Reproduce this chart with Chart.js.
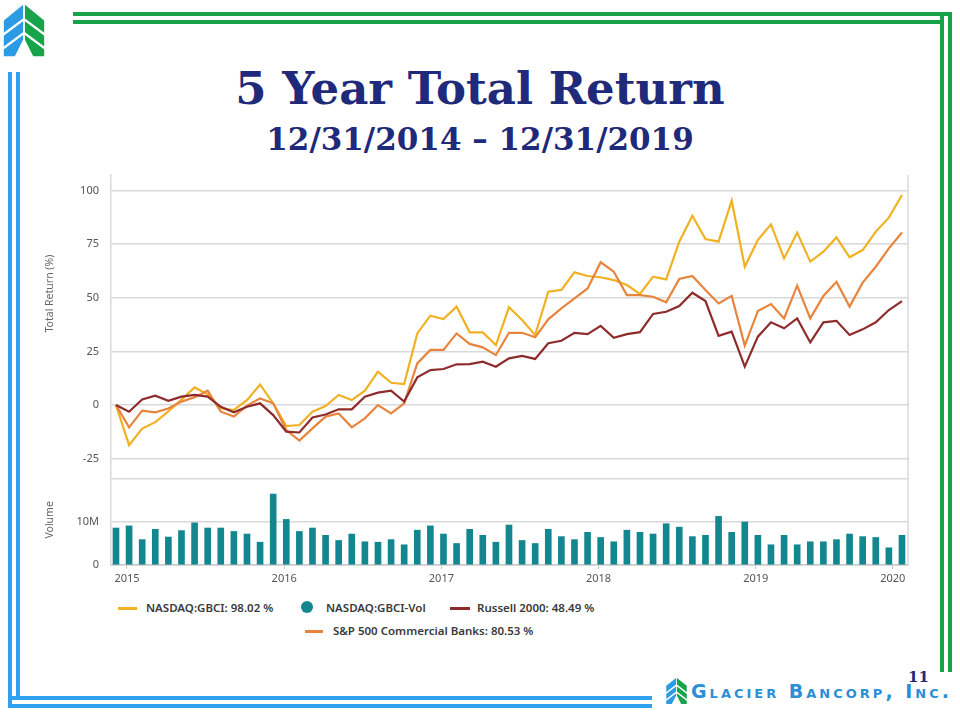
<!DOCTYPE html>
<html>
<head>
<meta charset="utf-8">
<script src="https://cdn.jsdelivr.net/npm/chart.js@4.4.1/dist/chart.umd.min.js"></script>
<style>
  html, body { margin: 0; padding: 0; background: #fff; }
  #slide { position: relative; width: 960px; height: 720px; overflow: hidden; background: #fff; }
  .ln { position: absolute; }
  .green { background: #17a24a; }
  .blue { background: #2fa1f0; }
  .title { position: absolute; left: 0; width: 960px; text-align: center; font-family: "DejaVu Serif", serif; font-weight: bold; color: #1f2a7a; white-space: nowrap; }
  #chartBox { position: absolute; left: 0; top: 170px; width: 960px; height: 415px; }
  .lg { position: absolute; font-family: "Noto Sans", sans-serif; font-weight: 600; font-size: 11.5px; line-height: 16px; color: #3a3a3a; white-space: nowrap; }
  .lgLine { position: absolute; height: 2.5px; }
  .lgDot { position: absolute; width: 12px; height: 12px; border-radius: 50%; }
  #company { position: absolute; left: 691px; top: 680px; font-family: "DejaVu Sans", sans-serif; font-weight: bold; font-size: 19px; font-variant: small-caps; letter-spacing: 3px; color: #2b8fd6; white-space: nowrap; line-height: 22px; }
  #pageNo { position: absolute; left: 908px; top: 668px; font-family: "DejaVu Serif", serif; font-weight: bold; font-size: 15px; color: #1f2a7a; }
</style>
</head>
<body>
<div id="slide">
  <!-- green frame top / right -->
  <div class="ln green" style="left:73px; top:12px; width:879px; height:3.5px"></div>
  <div class="ln green" style="left:73px; top:20px; width:871px; height:3.5px"></div>
  <div class="ln green" style="left:940px; top:12px; width:4px; height:660px"></div>
  <div class="ln green" style="left:948px; top:12px; width:4px; height:660px"></div>
  <!-- blue frame left / bottom -->
  <div class="ln blue" style="left:8px; top:72px; width:4px; height:636px"></div>
  <div class="ln blue" style="left:16px; top:72px; width:4px; height:628px"></div>
  <div class="ln blue" style="left:8px; top:696px; width:644px; height:4px"></div>
  <div class="ln blue" style="left:8px; top:704px; width:644px; height:4px"></div>

  <!-- logo top left -->
  <svg style="position:absolute; left:2px; top:2px" width="44" height="57" viewBox="0 0 48 60">
    <polygon fill="#2b9be6" points="2,19 23,2 23,40 14,58 2,58"/>
    <polygon fill="#17a34a" points="46,19 25,2 25,40 34,58 46,58"/>
    <g stroke="#fff" stroke-width="2.5">
      <line x1="0" y1="35.5" x2="24" y2="17.5"/>
      <line x1="0" y1="50.5" x2="24" y2="32.5"/>
      <line x1="48" y1="35.5" x2="24" y2="17.5"/>
      <line x1="48" y1="50.5" x2="24" y2="32.5"/>
    </g>
  </svg>

  <div class="title" style="top:66px; font-size:45px; line-height:45px">5 Year Total Return</div>
  <div class="title" style="top:124px; font-size:31px; line-height:31px">12/31/2014 – 12/31/2019</div>

  <div id="chartBox"><canvas id="returnChart"></canvas></div>

  <!-- legend -->
  <div class="lgLine" id="lgGbci" style="left:118px; top:607px; width:19px"></div>
  <div class="lg" style="left:146px; top:600px">NASDAQ:GBCI: 98.02 %</div>
  <div class="lgDot" id="lgVol" style="left:301px; top:601px"></div>
  <div class="lg" style="left:326px; top:600px">NASDAQ:GBCI-Vol</div>
  <div class="lgLine" id="lgRussell" style="left:450px; top:607px; width:20px"></div>
  <div class="lg" style="left:477px; top:600px">Russell 2000: 48.49 %</div>
  <div class="lgLine" id="lgBanks" style="left:305px; top:630px; width:18px"></div>
  <div class="lg" style="left:333px; top:623px">S&amp;P 500 Commercial Banks: 80.53 %</div>

  <!-- footer -->
  <div id="pageNo">11</div>
  <svg style="position:absolute; left:665px; top:677px" width="23" height="28" viewBox="0 0 48 60">
    <polygon fill="#2b9be6" points="2,19 23,2 23,40 14,58 2,58"/>
    <polygon fill="#17a34a" points="46,19 25,2 25,40 34,58 46,58"/>
    <g stroke="#fff" stroke-width="3">
      <line x1="0" y1="35.5" x2="24" y2="17.5"/>
      <line x1="0" y1="50.5" x2="24" y2="32.5"/>
      <line x1="48" y1="35.5" x2="24" y2="17.5"/>
      <line x1="48" y1="50.5" x2="24" y2="32.5"/>
    </g>
  </svg>
  <div id="company">Glacier Bancorp, Inc.</div>
</div>

<script>
// monthly total return (%) since 12/2014, one value per month
const gbci = [0, -18.7, -11, -8, -3, 2.5, 8.2, 5, -1.5, -2.3,
  2.3, 9.6, 0.8, -9.8, -9.3, -3.1, -0.5, 4.7, 2.3, 6.7,
  15.6, 10.4, 9.8, 33.4, 41.7, 40.1, 45.9, 33.9, 33.9, 28.0,
  45.6, 39.7, 32.7, 52.9, 53.7, 61.9, 60.2, 59.6, 58.3, 56.0,
  51.8, 59.9, 58.6, 76.2, 88.3, 77.4, 76.2, 95.3, 64.5, 77.0,
  84.3, 68.4, 80.4, 66.9, 71.5, 78.2, 68.9, 72.3, 80.9, 87.4, 98.0];

const russell = [0, -3.1, 2.6, 4.4, 2.0, 3.9, 4.7, 3.9, -0.8, -3.4,
  -0.8, 0.8, -4.7, -12.4, -12.8, -5.8, -4.4, -2.0, -2.0, 3.9,
  5.8, 6.7, 1.6, 12.9, 16.3, 16.8, 19.0, 19.1, 20.2, 17.9,
  21.8, 22.9, 21.5, 28.8, 30.0, 33.7, 33.1, 36.9, 31.4, 33.1,
  34.0, 42.5, 43.5, 46.2, 52.4, 48.5, 32.3, 34.2, 17.9, 31.9,
  38.6, 35.8, 40.4, 29.2, 38.6, 39.3, 32.7, 35.3, 38.6, 44.3, 48.5];

const banks = [0, -10.4, -2.6, -3.4, -1.6, 1.6, 3.6, 6.7, -3.1, -5.4,
  -0.3, 3.1, 0.8, -11.7, -16.6, -10.9, -5.4, -3.9, -10.4, -6.2,
  0, -3.9, 0.8, 19.4, 25.7, 25.7, 33.4, 28.5, 26.9, 23.3,
  33.7, 33.7, 31.6, 40.0, 45.1, 49.8, 54.4, 66.6, 62.2, 51.3,
  51.3, 50.5, 47.9, 58.8, 60.2, 53.7, 47.4, 50.9, 27.7, 43.9,
  47.1, 40.4, 55.7, 40.4, 50.9, 57.5, 45.9, 57.1, 64.5, 73.1, 80.5];

// monthly volume, millions of shares
const volume = [8.6, 9.1, 5.9, 8.3, 6.5, 8.0, 9.8, 8.6, 8.6, 7.8,
  7.2, 5.3, 16.5, 10.6, 7.8, 8.6, 6.9, 5.7, 7.2, 5.4,
  5.3, 5.9, 4.7, 8.1, 9.1, 7.2, 5.0, 8.3, 6.9, 5.3,
  9.3, 5.7, 5.0, 8.3, 6.6, 5.9, 7.6, 6.4, 5.4, 8.1,
  7.6, 7.2, 9.6, 8.8, 6.6, 6.9, 11.3, 7.6, 10.0, 6.9,
  4.7, 6.9, 4.7, 5.4, 5.4, 5.9, 7.2, 6.6, 6.4, 4.0, 6.9];

const yearLabels = ['2015', '2016', '2017', '2018', '2019', '2020'];
const yearTickPos = [0.84, 12.84, 24.84, 36.84, 48.84, 59.3]; // in months from first point
const returnTicks = [-25, 0, 25, 50, 75, 100];
const volumeTicks = [0, 10];

const colors = {
  gbci: '#f0b224',
  banks: '#e8843c',
  russell: '#8e2b2b',
  vol: '#13878f'
};

document.getElementById('lgGbci').style.background = colors.gbci;
document.getElementById('lgBanks').style.background = colors.banks;
document.getElementById('lgRussell').style.background = colors.russell;
document.getElementById('lgVol').style.background = colors.vol;

const toPoints = arr => arr.map((v, i) => ({ x: i, y: v }));

Chart.defaults.font.family = '"Noto Sans", sans-serif';
Chart.defaults.font.size = 11;
Chart.defaults.color = '#666';

const gridColor = '#d9d9d9';

// fixed-size axis boxes, no extra label padding
const fixWidth = scale => {
  scale.width = 111;
  scale.paddingTop = 0;
  scale.paddingBottom = 0;
};

// axis titles + right border of the plot
const panelDecor = {
  id: 'panelDecor',
  afterDraw(chart) {
    const { ctx, chartArea, scales } = chart;
    ctx.save();
    ctx.strokeStyle = gridColor;
    ctx.lineWidth = 1.5;
    ctx.beginPath();
    ctx.moveTo(chartArea.right, chartArea.top);
    ctx.lineTo(chartArea.right, chartArea.bottom);
    ctx.stroke();

    ctx.fillStyle = '#666';
    ctx.font = '10.5px "Noto Sans", sans-serif';
    ctx.textAlign = 'center';
    ctx.textBaseline = 'middle';
    const titles = [
      ['Total Return (%)', scales.y.getPixelForValue(52)],
      ['Volume', scales.yVol.getPixelForValue(10.5)]
    ];
    titles.forEach(([text, cy]) => {
      ctx.save();
      ctx.translate(50, cy);
      ctx.rotate(-Math.PI / 2);
      ctx.fillText(text, 0, 0);
      ctx.restore();
    });
    ctx.restore();
  }
};

new Chart(document.getElementById('returnChart'), {
  type: 'line',
  data: {
    datasets: [
      {
        type: 'bar',
        label: 'NASDAQ:GBCI-Vol',
        data: toPoints(volume),
        yAxisID: 'yVol',
        backgroundColor: colors.vol,
        barThickness: 6
      },
      {
        label: 'Russell 2000: 48.49 %',
        data: toPoints(russell),
        yAxisID: 'y',
        borderColor: colors.russell,
        borderWidth: 2.2,
        pointRadius: 0,
        tension: 0
      },
      {
        label: 'S&P 500 Commercial Banks: 80.53 %',
        data: toPoints(banks),
        yAxisID: 'y',
        borderColor: colors.banks,
        borderWidth: 2.2,
        pointRadius: 0,
        tension: 0
      },
      {
        label: 'NASDAQ:GBCI: 98.02 %',
        data: toPoints(gbci),
        yAxisID: 'y',
        borderColor: colors.gbci,
        borderWidth: 2.2,
        pointRadius: 0,
        tension: 0
      }
    ]
  },
  options: {
    responsive: true,
    maintainAspectRatio: false,
    animation: false,
    layout: { padding: { left: 0, top: 5, right: 52, bottom: 0 } },
    plugins: {
      legend: { display: false },
      tooltip: { enabled: false }
    },
    scales: {
      x: {
        type: 'linear',
        offset: false,
        min: -0.38,
        max: 60.46,
        afterBuildTicks: scale => { scale.ticks = yearTickPos.map(v => ({ value: v })); },
        afterFit: scale => { scale.height = 20; scale.paddingLeft = 0; scale.paddingRight = 0; },
        ticks: {
          padding: 3,
          color: '#555',
          callback: (value, index) => yearLabels[index]
        },
        grid: { offset: false, drawOnChartArea: false, drawTicks: true, tickLength: 4, color: '#c8c8c8' },
        border: { display: true, color: '#c8c8c8', width: 1.5 }
      },
      y: {
        type: 'linear',
        position: 'left',
        stack: 'panels',
        stackWeight: 304,
        weight: 1,
        min: -34.5,
        max: 107.3,
        afterBuildTicks: scale => {
          scale.ticks = [{ value: scale.min }].concat(returnTicks.map(v => ({ value: v })));
        },
        afterFit: fixWidth,
        ticks: {
          padding: 12,
          color: '#555',
          callback: value => returnTicks.includes(value) ? String(value) : ''
        },
        grid: { color: gridColor, lineWidth: 1.5, drawTicks: false },
        border: { display: true, color: gridColor, width: 1.5 }
      },
      yVol: {
        type: 'linear',
        position: 'left',
        stack: 'panels',
        stackWeight: 86,
        weight: 0,
        min: 0,
        max: 20,
        afterBuildTicks: scale => { scale.ticks = volumeTicks.map(v => ({ value: v })); },
        afterFit: fixWidth,
        ticks: {
          padding: 12,
          color: '#555',
          callback: value => value === 0 ? '0' : value + 'M'
        },
        grid: { color: gridColor, lineWidth: 1.5, drawTicks: false },
        border: { display: true, color: gridColor, width: 1.5 }
      }
    }
  },
  plugins: [panelDecor]
});
</script>
</body>
</html>
